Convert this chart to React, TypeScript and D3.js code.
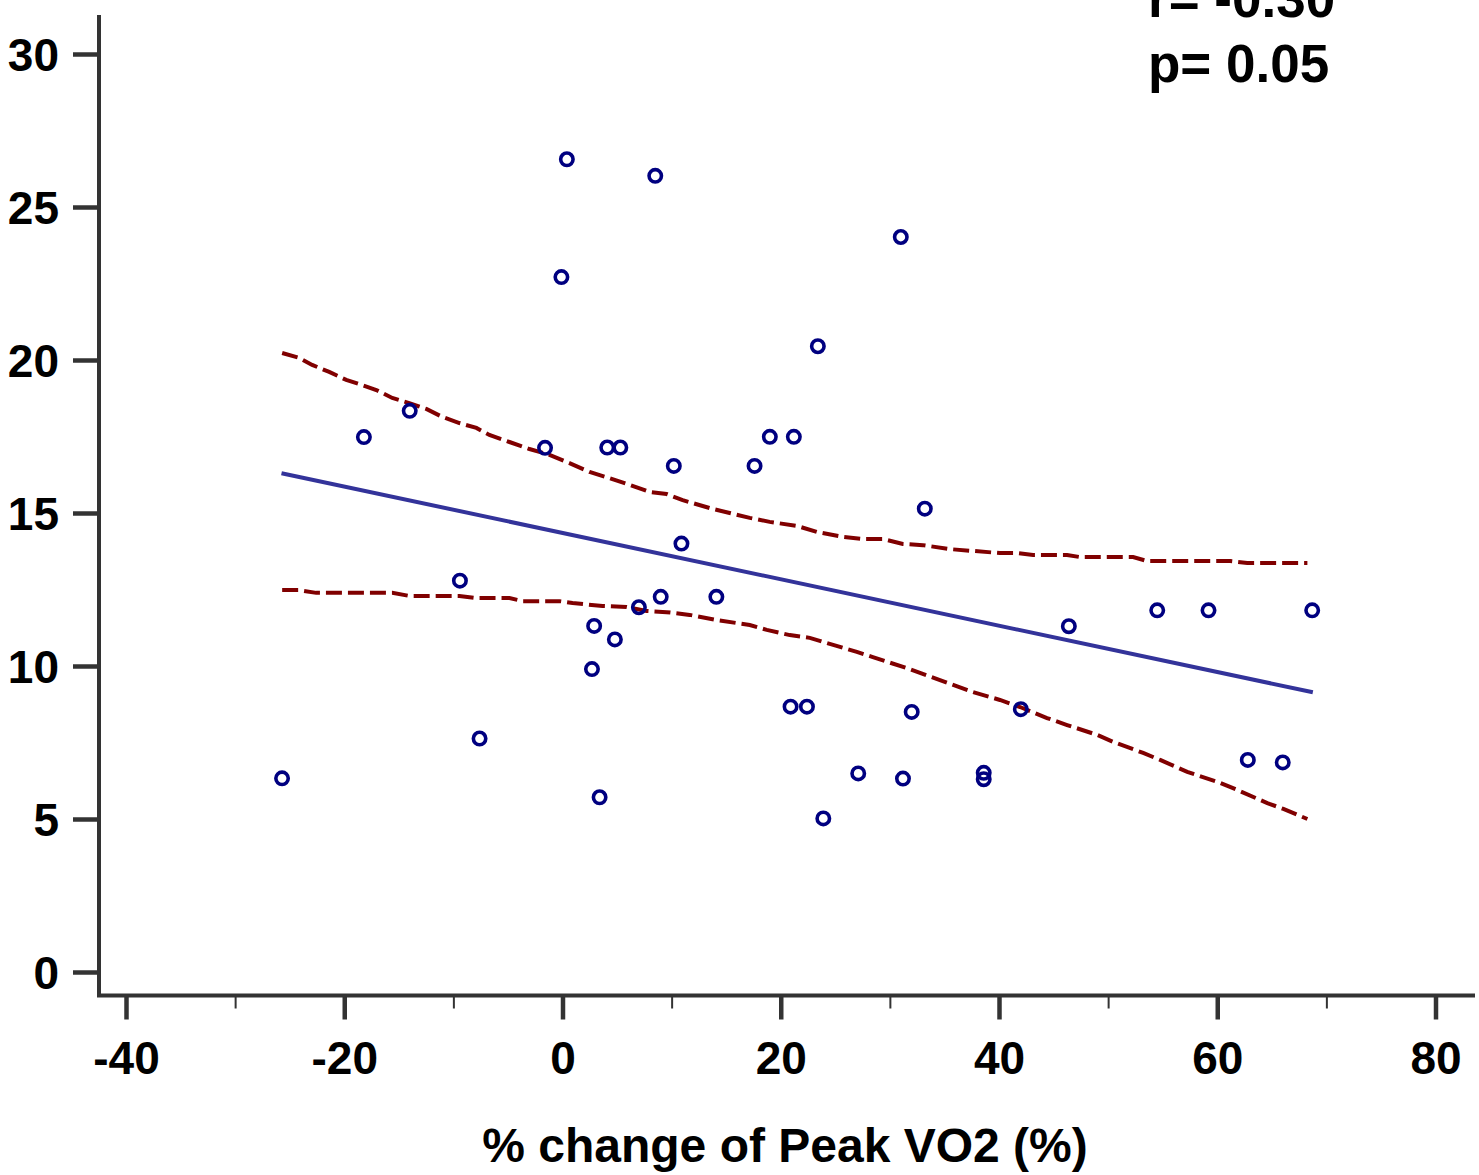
import React, { useRef, useEffect } from "react";
import { select, scaleLinear, axisLeft, axisBottom, line } from "d3";

// scatter points (% change of peak VO2, y value)
const pointX = [
  -25.7, -18.2, -14.0, -9.4, -7.6, -1.6, -0.1, 0.4, 2.7, 2.9, 3.4, 4.1, 5.3, 4.8,
  7.0, 8.5, 9.0, 10.2, 10.9, 14.1, 17.6, 19.0, 21.2, 20.9, 22.4, 23.4, 23.9, 27.1,
  31.0, 31.2, 32.0, 33.2, 38.6, 38.6, 42.0, 46.4, 54.5, 59.2, 68.7, 62.8, 66.0,
];
const pointY = [
  6.33, 17.48, 18.34, 12.79, 7.63, 17.13, 22.71, 26.56, 9.9, 11.31, 5.71, 17.14,
  17.14, 10.87, 11.92, 26.02, 12.26, 16.54, 14.0, 12.26, 16.54, 17.49, 17.49, 8.67,
  8.67, 20.45, 5.02, 6.49, 24.02, 6.32, 8.5, 15.14, 6.51, 6.3, 8.59, 11.3, 11.82,
  11.82, 11.82, 6.93, 6.85,
];

// fitted line end points
const fitX = [-25.75, 68.76];
const fitY = [16.3, 9.14];

// upper confidence band
const upperX = [
  -25.69, -24.13, -22.94, -21.38, -19.82, -18.35, -17.06, -15.6, -14.04, -12.48,
  -11.01, -9.45, -7.89, -6.7, -4.86, -3.03, -1.19, 0.64, 2.48, 4.31, 6.15, 7.98,
  9.54, 11.01, 13.49, 15.32, 17.16, 18.99, 21.47, 23.3, 25.69, 27.52, 29.36, 31.19,
  33.03, 35.5, 40.09, 41.65, 43.12, 46.24, 47.43, 52.29, 53.58, 61.19, 62.75, 68.26,
];
const upperY = [
  20.23, 20.07, 19.84, 19.61, 19.35, 19.18, 19.02, 18.76, 18.59, 18.4, 18.14,
  17.94, 17.78, 17.55, 17.32, 17.09, 16.9, 16.63, 16.34, 16.14, 15.92, 15.69,
  15.62, 15.42, 15.16, 15.0, 14.84, 14.71, 14.58, 14.38, 14.22, 14.15, 14.15,
  13.99, 13.95, 13.82, 13.69, 13.69, 13.63, 13.63, 13.56, 13.56, 13.43, 13.43,
  13.37, 13.37,
];

// lower confidence band
const lowerX = [
  -25.69, -24.13, -22.57, -15.6, -14.04, -9.45, -7.89, -4.86, -3.67, -0.28, 0.92,
  3.67, 5.87, 7.71, 9.54, 11.65, 14.13, 17.16, 18.72, 20.83, 22.66, 24.22, 26.97,
  28.44, 31.56, 34.59, 37.61, 40.09, 41.93, 44.4, 46.24, 48.99, 50.46, 53.21,
  54.77, 57.25, 60.28, 61.83, 64.59, 66.06, 68.26,
];
const lowerY = [
  12.48, 12.48, 12.39, 12.39, 12.29, 12.29, 12.22, 12.22, 12.12, 12.12, 12.06,
  11.96, 11.93, 11.8, 11.76, 11.67, 11.5, 11.34, 11.18, 11.01, 10.92, 10.75,
  10.46, 10.29, 9.93, 9.54, 9.15, 8.89, 8.66, 8.3, 8.07, 7.75, 7.52, 7.16, 6.93,
  6.54, 6.18, 5.95, 5.52, 5.33, 5.0,
];

const xTicks = [-40, -20, 0, 20, 40, 60, 80];
const xMinorTicks = [-30, -10, 10, 30, 50, 70];
const yTicks = [0, 5, 10, 15, 20, 25, 30];
const statLines = ["r= -0.30", "p= 0.05"];
const xTitle = "% change of Peak VO2 (%)";

const FONT = "'Liberation Sans', Arial, sans-serif";

const App = () => {
  const svgRef = useRef<SVGSVGElement>(null);

  useEffect(() => {
    const svg = select(svgRef.current);
    svg.selectAll("*").remove();

    const xScale = scaleLinear().domain([-40, 80]).range([126, 1435.5]);
    const yScale = scaleLinear().domain([0, 30]).range([972, 54]);

    const axisColor = "#333333";
    const left = 99;
    const bottom = 995.5;

    // y axis
    const yAxis = axisLeft(yScale).tickValues(yTicks).tickSize(26).tickPadding(14);
    const gy = svg.append("g").attr("transform", `translate(${left},0)`).call(yAxis);
    gy.select(".domain").remove();
    gy.selectAll(".tick line").attr("stroke", axisColor).attr("stroke-width", 4.5);
    gy.selectAll(".tick text")
      .attr("dy", "0.36em")
      .style("font-family", FONT)
      .style("font-weight", "bold")
      .style("font-size", "46px")
      .attr("fill", "#000");

    // x axis minor ticks
    const xMinor = axisBottom(xScale).tickValues(xMinorTicks).tickSize(13).tickFormat(() => "");
    const gxm = svg.append("g").attr("transform", `translate(0,${bottom})`).call(xMinor);
    gxm.select(".domain").remove();
    gxm.selectAll(".tick line").attr("stroke", axisColor).attr("stroke-width", 2);

    // x axis major ticks (plain hyphen for negatives, like the original)
    const xAxis = axisBottom(xScale)
      .tickValues(xTicks)
      .tickSize(24)
      .tickPadding(22)
      .tickFormat((d) => String(d));
    const gx = svg.append("g").attr("transform", `translate(0,${bottom})`).call(xAxis);
    gx.select(".domain").remove();
    gx.selectAll(".tick line").attr("stroke", axisColor).attr("stroke-width", 4.5);
    gx.selectAll(".tick text")
      .attr("dy", "0.71em")
      .style("font-family", FONT)
      .style("font-weight", "bold")
      .style("font-size", "46px")
      .attr("fill", "#000");

    // axis lines
    svg.append("path")
      .attr("d", `M${left},15 V${bottom} H1475`)
      .attr("fill", "none")
      .attr("stroke", axisColor)
      .attr("stroke-width", 4);

    const pathOf = (xs: number[], ys: number[]) =>
      line<[number, number]>()
        .x((d) => xScale(d[0]))
        .y((d) => yScale(d[1]))(xs.map((v, i) => [v, ys[i]] as [number, number]));

    // confidence bands
    [[upperX, upperY], [lowerX, lowerY]].forEach(([xs, ys]) => {
      svg.append("path")
        .attr("d", pathOf(xs, ys))
        .attr("fill", "none")
        .attr("stroke", "#800000")
        .attr("stroke-width", 4)
        .attr("stroke-dasharray", "16 6");
    });

    // fitted line
    svg.append("path")
      .attr("d", pathOf(fitX, fitY))
      .attr("fill", "none")
      .attr("stroke", "#33339a")
      .attr("stroke-width", 4);

    // points
    svg.selectAll(".pt")
      .data(pointX)
      .join("circle")
      .attr("class", "pt")
      .attr("cx", (d) => xScale(d))
      .attr("cy", (d, i) => yScale(pointY[i]))
      .attr("r", 6.2)
      .attr("fill", "none")
      .attr("stroke", "#000080")
      .attr("stroke-width", 3.6);

    // stats (top line is partly cut off in the original)
    svg.selectAll(".stat")
      .data(statLines)
      .join("text")
      .attr("class", "stat")
      .attr("x", 1148)
      .attr("y", (d, i) => 17 + i * 65)
      .style("font-family", FONT)
      .style("font-weight", "bold")
      .style("font-size", "53px")
      .attr("fill", "#000")
      .text((d) => d);

    // x title
    svg.append("text")
      .attr("x", 785)
      .attr("y", 1162)
      .attr("text-anchor", "middle")
      .style("font-family", FONT)
      .style("font-weight", "bold")
      .style("font-size", "48px")
      .attr("fill", "#000")
      .text(xTitle);
  }, []);

  return (
    <div style={{ position: "absolute", left: 0, top: 0 }}>
      <svg ref={svgRef} width={1479} height={1175} style={{ display: "block", background: "#fff" }} />
    </div>
  );
};

export default App;
